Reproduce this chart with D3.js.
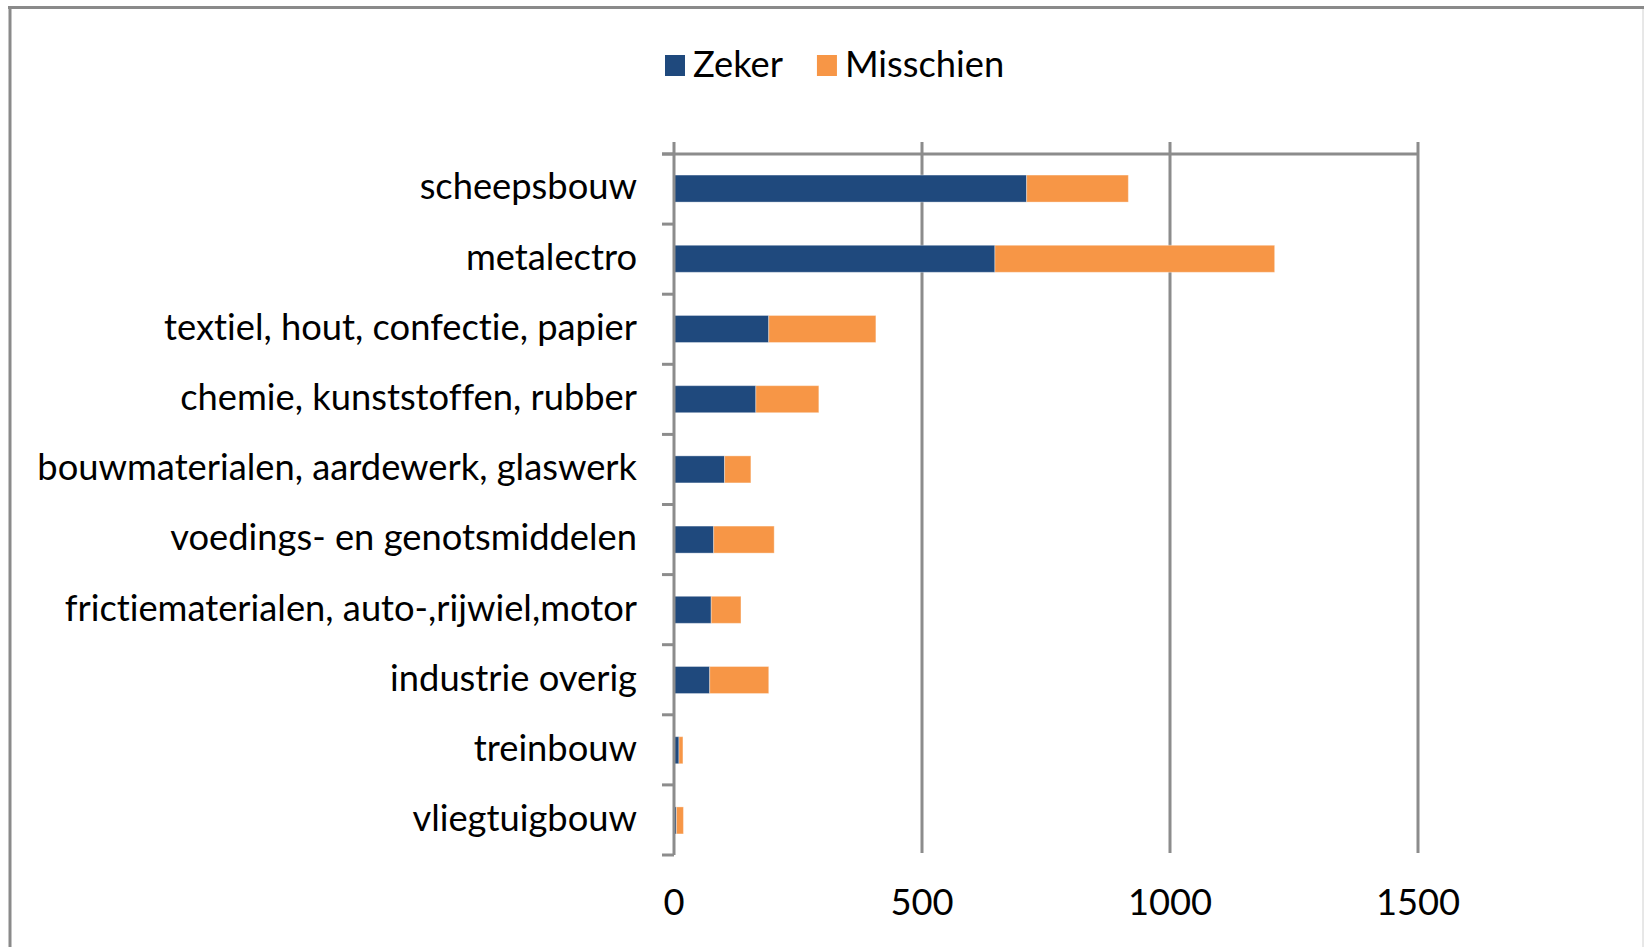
<!DOCTYPE html>
<html>
<head>
<meta charset="utf-8">
<script src="https://cdn.jsdelivr.net/npm/d3@7"></script>
<style>
body { margin: 0; background: #fff; }
svg text { font-family: "Lato", "Open Sans", sans-serif; fill: #000; font-variant-ligatures: none; font-feature-settings: "liga" 0; }
</style>
</head>
<body>
<div id="chart"></div>
<script>
// sectoren en aantallen
var categories = ["scheepsbouw", "metalectro", "textiel, hout, confectie, papier",
    "chemie, kunststoffen, rubber", "bouwmaterialen, aardewerk, glaswerk",
    "voedings- en genotsmiddelen", "frictiematerialen, auto-,rijwiel,motor",
    "industrie overig", "treinbouw", "vliegtuigbouw"];
var zeker = [711, 647, 191, 165, 102, 80, 75, 72, 10, 5];
var misschien = [205, 564, 216, 127, 53, 122, 60, 119, 8, 14];
var seriesNames = ["Zeker", "Misschien"];
var seriesColors = ["#1f497d", "#f79646"];
var xTicks = [0, 500, 1000, 1500];

var W = 1644, H = 947;
var svg = d3.select("#chart").append("svg").attr("width", W).attr("height", H);

// frame
var frame = "#8a8a8a";
svg.append("line").attr("x1", 8).attr("x2", W).attr("y1", 7.5).attr("y2", 7.5)
    .attr("stroke", frame).attr("stroke-width", 3);
svg.append("line").attr("x1", 10).attr("x2", 10).attr("y1", 6).attr("y2", H)
    .attr("stroke", frame).attr("stroke-width", 3);
svg.append("line").attr("x1", 1643).attr("x2", 1643).attr("y1", 9).attr("y2", H)
    .attr("stroke", "#d0d0d0").attr("stroke-width", 1);

// font size fitted so the longest label gets its width in the picture
var probe = svg.append("text").style("font-size", "100px").text(categories[4]);
var fs = 100 * 600 / probe.node().getComputedTextLength();
probe.remove();

var x = d3.scaleLinear().domain([0, 1500]).range([674, 1418]);
var y = d3.scaleBand().domain(categories).range([154, 855]).paddingInner(0.615).paddingOuter(0.3);

var grid = "#8c8c8c";
var yTop = y.range()[0], yBottom = y.range()[1];

// vertical gridlines
svg.append("g").selectAll("line").data(xTicks.slice(1)).join("line")
    .attr("x1", d => x(d)).attr("x2", d => x(d))
    .attr("y1", yTop - 12).attr("y2", yBottom - 2)
    .attr("stroke", grid).attr("stroke-width", 3);

// top line
svg.append("line").attr("x1", x(0) - 12).attr("x2", x(1500))
    .attr("y1", yTop).attr("y2", yTop).attr("stroke", grid).attr("stroke-width", 3);

// stacked bars
var rows = categories.map((c, i) => ({ cat: c, Zeker: zeker[i], Misschien: misschien[i] }));
var stack = d3.stack().keys(seriesNames)(rows);
svg.append("g").selectAll("g").data(stack).join("g")
    .attr("fill", (d, i) => seriesColors[i])
    .selectAll("rect").data(d => d).join("rect")
    .attr("x", d => x(d[0]))
    .attr("width", d => x(d[1]) - x(d[0]))
    .attr("y", d => y(d.data.cat))
    .attr("height", y.bandwidth())
    .attr("stroke", "#ffffff").attr("stroke-opacity", 0.35).attr("stroke-width", 1);

// category axis
var bounds = d3.range(categories.length + 1).map(i => yTop + i * (yBottom - yTop) / categories.length);
svg.append("line").attr("x1", x(0)).attr("x2", x(0))
    .attr("y1", yTop - 12).attr("y2", yBottom).attr("stroke", grid).attr("stroke-width", 3);
svg.append("g").selectAll("line").data(bounds).join("line")
    .attr("x1", x(0) - 12).attr("x2", x(0))
    .attr("y1", d => d).attr("y2", d => d)
    .attr("stroke", grid).attr("stroke-width", 3);

svg.append("g").selectAll("text").data(categories).join("text")
    .attr("x", 637)
    .attr("y", d => y(d) + y.bandwidth() / 2)
    .attr("dy", "0.3em")
    .attr("text-anchor", "end")
    .style("font-size", fs + "px")
    .text(d => d);

// value axis labels
svg.append("g").selectAll("text").data(xTicks).join("text")
    .attr("x", d => x(d))
    .attr("y", 903)
    .attr("dy", "0.33em")
    .attr("text-anchor", "middle")
    .style("font-size", fs + "px")
    .text(d => d);

// legend
var legend = svg.append("g");
var lx = 665;
seriesNames.forEach(function (name, i) {
    legend.append("rect").attr("x", lx).attr("y", 55).attr("width", 20).attr("height", 21)
        .attr("fill", seriesColors[i]);
    var t = legend.append("text").attr("x", lx + 28).attr("y", 65.5).attr("dy", "0.33em")
        .style("font-size", fs + "px").text(name);
    lx += 28 + t.node().getComputedTextLength() + 34;
});
</script>
</body>
</html>
